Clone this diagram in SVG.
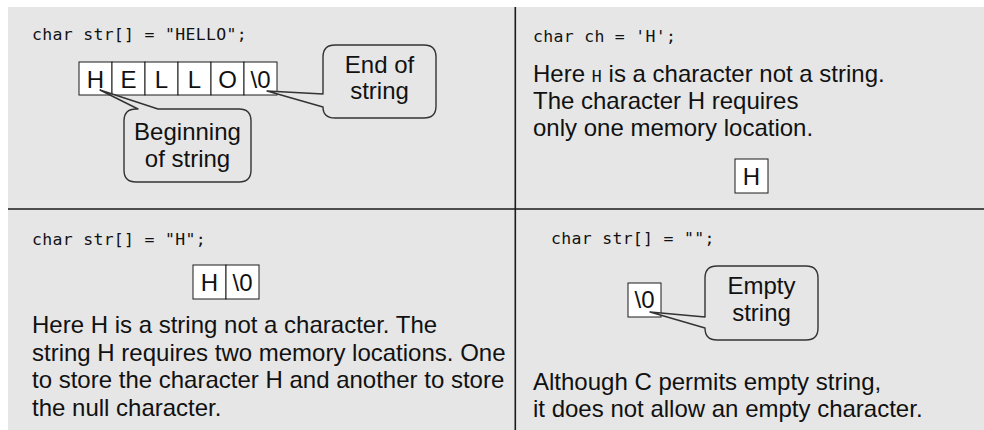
<svg xmlns="http://www.w3.org/2000/svg" width="984" height="430" viewBox="0 0 984 430">
<style>
.bg{fill:#e6e6e6}
.div{stroke:#1a1a1a;stroke-width:1.6;fill:none}
.cell{fill:#ffffff;stroke:#1a1a1a;stroke-width:1}
.callout{fill:#e6e6e6;stroke:#333333;stroke-width:1.4;stroke-linejoin:round}
.code{font-family:"DejaVu Sans Mono","Liberation Mono",monospace;font-size:16.5px;letter-spacing:0.3px;fill:#111}
.txt{font-family:"Liberation Sans",Arial,sans-serif;font-size:24px;fill:#111}
.ctr{text-anchor:middle}
</style>
<rect class="bg" x="8" y="7" width="976" height="423"/>
<g id="dividers">
<line class="div" x1="515.3" y1="7" x2="515.3" y2="430"/>
<line class="div" x1="8" y1="209" x2="984" y2="209"/>
</g>

<g id="panel-hello">
<text class="code" x="32" y="40">char str[] = "HELLO";</text>
<g id="hello-cells">
<rect class="cell" x="79" y="62" width="33" height="33"/>
<rect class="cell" x="112" y="62" width="33" height="33"/>
<rect class="cell" x="145" y="62" width="33" height="33"/>
<rect class="cell" x="178" y="62" width="33" height="33"/>
<rect class="cell" x="211" y="62" width="33" height="33"/>
<rect class="cell" x="244" y="62" width="33" height="33"/>
<text class="txt ctr" x="95.5" y="88">H</text>
<text class="txt ctr" x="128.5" y="88">E</text>
<text class="txt ctr" x="161.5" y="88">L</text>
<text class="txt ctr" x="194.5" y="88">L</text>
<text class="txt ctr" x="227.5" y="88">O</text>
<text class="txt ctr" x="260.5" y="88">\0</text>
</g>
</g>

<g id="callout-end">
<path class="callout" d="M335 45 H424 Q436 45 436 57 V106 Q436 118 424 118 H335 Q323 118 323 107 L267 91 L323 94 V57 Q323 45 335 45 Z"/>
<text class="txt ctr" x="379.5" y="73">End of</text>
<text class="txt ctr" x="379.5" y="99">string</text>
</g>

<g id="callout-begin">
<path class="callout" d="M138 109 L100 90 L158 109 H239 Q251 109 251 121 V170 Q251 182 239 182 H136 Q124 182 124 170 V121 Q124 109 136 109 Z"/>
<text class="txt ctr" x="187.5" y="140">Beginning</text>
<text class="txt ctr" x="187.5" y="167">of string</text>
</g>

<g id="panel-char">
<text class="code" x="533" y="41.5">char ch = 'H';</text>
<text class="txt" x="533" y="82">Here <tspan class="code" style="font-size:16.5px">H</tspan> is a character not a string.</text>
<text class="txt" x="533" y="109">The character H requires</text>
<text class="txt" x="533" y="136">only one memory location.</text>
<rect class="cell" x="735" y="159" width="33" height="34"/>
<text class="txt ctr" x="751.5" y="185">H</text>
</g>

<g id="panel-string-h">
<text class="code" x="32" y="245">char str[] = "H";</text>
<rect class="cell" x="193" y="265" width="33" height="34"/>
<rect class="cell" x="226" y="265" width="33" height="34"/>
<text class="txt ctr" x="209.5" y="291">H</text>
<text class="txt ctr" x="242.5" y="291">\0</text>
<text class="txt" x="32" y="333">Here H is a string not a character. The</text>
<text class="txt" x="32" y="361">string H requires two memory locations. One</text>
<text class="txt" x="32" y="388">to store the character H and another to store</text>
<text class="txt" x="32" y="416">the null character.</text>
</g>

<g id="panel-empty">
<text class="code" x="551" y="244">char str[] = "";</text>
<rect class="cell" x="628" y="283" width="33" height="34"/>
<text class="txt ctr" x="644.5" y="308">\0</text>
<text class="txt" x="533" y="390">Although C permits empty string,</text>
<text class="txt" x="533" y="417">it does not allow an empty character.</text>
</g>

<g id="callout-empty">
<path class="callout" d="M717 266 H806 Q818 266 818 278 V328 Q818 340 806 340 H717 Q705 340 705 328 L650 312 L705 317 V278 Q705 266 717 266 Z"/>
<text class="txt ctr" x="761.5" y="294">Empty</text>
<text class="txt ctr" x="761.5" y="321">string</text>
</g>

<g id="connectors"></g>
</svg>
